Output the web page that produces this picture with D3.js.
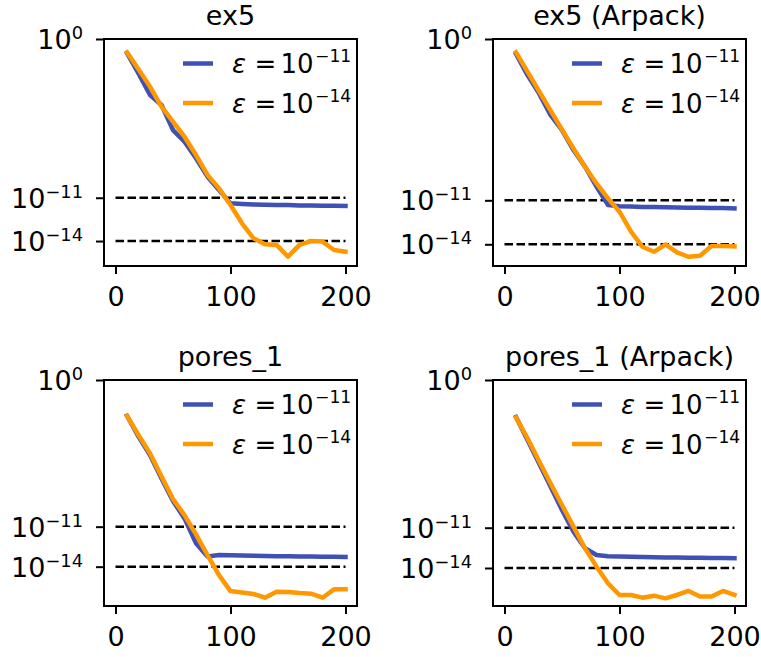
<!DOCTYPE html>
<html>
<head>
<meta charset="utf-8">
<script src="https://cdn.jsdelivr.net/npm/d3@7"></script>
<style>
  body { margin: 0; background: #fff; }
  svg { display: block; }
  text { font-family: "DejaVu Sans", sans-serif; fill: #000; }
</style>
</head>
<body>
<svg id="chart" width="761" height="657"></svg>
<script>
// Restart iteration counts (x axis)
const iterations = [10, 20, 30, 40, 50, 60, 70, 80, 90, 100, 110, 120, 130, 140, 150, 160, 170, 180, 190, 200];

// log10 of the residual for each solver tolerance
const ex5_tol11 = [-0.97, -2.38, -3.88, -4.57, -6.31, -7.11, -8.27, -9.54, -10.46, -11.39, -11.43, -11.46, -11.48, -11.50, -11.50, -11.53, -11.53, -11.55, -11.55, -11.57];
const ex5_tol14 = [-0.92, -2.10, -3.30, -4.69, -5.73, -6.77, -8.04, -9.42, -10.35, -11.50, -12.77, -13.81, -14.23, -14.27, -15.08, -14.27, -14.00, -14.04, -14.62, -14.74];

const ex5Arpack_tol11 = [-1.02, -2.46, -3.71, -5.18, -6.21, -7.57, -8.71, -10.07, -11.32, -11.41, -11.43, -11.45, -11.46, -11.48, -11.49, -11.50, -11.51, -11.52, -11.53, -11.55];
const ex5Arpack_tol14 = [-0.91, -2.23, -3.55, -4.87, -6.18, -7.46, -8.71, -9.85, -10.87, -11.78, -13.14, -14.17, -14.51, -14.01, -14.55, -14.85, -14.78, -14.12, -14.12, -14.14];

const pores_tol11 = [-2.68, -4.25, -5.63, -7.38, -9.08, -10.38, -12.25, -13.23, -13.13, -13.15, -13.17, -13.18, -13.20, -13.21, -13.22, -13.23, -13.24, -13.25, -13.26, -13.27];
const pores_tol14 = [-2.68, -4.13, -5.50, -7.23, -8.93, -10.13, -11.58, -13.13, -14.63, -15.83, -15.93, -16.05, -16.33, -15.88, -15.90, -15.98, -16.03, -16.33, -15.70, -15.70];

const poresArpack_tol11 = [-2.75, -4.47, -6.20, -7.94, -9.68, -11.29, -12.53, -13.03, -13.13, -13.15, -13.17, -13.18, -13.20, -13.21, -13.22, -13.23, -13.24, -13.25, -13.26, -13.27];
const poresArpack_tol14 = [-2.80, -4.34, -6.03, -7.69, -9.31, -10.92, -12.53, -13.90, -15.14, -16.01, -16.01, -16.21, -16.06, -16.26, -16.01, -15.71, -16.13, -16.13, -15.71, -16.01];

// Panel titles, tolerance exponents (legend + dashed reference lines), tick labels
const titles = ["ex5", "ex5 (Arpack)", "pores_1", "pores_1 (Arpack)"];
const tolExponents = [-11, -14];
const yTickExponents = [0, -11, -14];
const xTicks = [0, 100, 200];
const yFloorExponents = [-15.73, -15.48, -16.95, -16.83];

const seriesByPanel = [
  [ex5_tol11, ex5_tol14],
  [ex5Arpack_tol11, ex5Arpack_tol14],
  [pores_tol11, pores_tol14],
  [poresArpack_tol11, poresArpack_tol14]
];
const colors = ["#3f51b5", "#ff9800"];

// Layout
const panelW = 253;
const boxes = [
  { left: 104, top: 39, bottom: 266 },
  { left: 493, top: 39, bottom: 266 },
  { left: 104, top: 380, bottom: 606 },
  { left: 493, top: 380, bottom: 606 }
];
const tickFont = 27;
const titleFont = 27;
const legendFont = 26;

const svg = d3.select("#chart");

// Writes "10" with a superscript exponent into a text element
function powerLabel(textSel, exp, size) {
  textSel.text(null);
  textSel.append("tspan").text("10");
  textSel.append("tspan")
    .attr("font-size", size * 0.66)
    .attr("dy", -10)
    .text(exp < 0 ? "\u2212" + Math.abs(exp) : String(exp));
}

boxes.forEach((b, i) => {
  const x = d3.scaleLinear().domain([-10, 210]).range([b.left, b.left + panelW]);
  const y = d3.scaleLog()
    .domain([Math.pow(10, yFloorExponents[i]), 1])
    .range([b.bottom, b.top]);

  const g = svg.append("g");

  // dashed tolerance reference lines
  tolExponents.forEach(e => {
    g.append("line")
      .attr("x1", x(0)).attr("x2", x(200))
      .attr("y1", y(Math.pow(10, e))).attr("y2", y(Math.pow(10, e)))
      .attr("stroke", "#000")
      .attr("stroke-width", 2.5)
      .attr("stroke-dasharray", "8.5,3.5");
  });

  // convergence curves
  const line = d3.line()
    .x((d, j) => x(iterations[j]))
    .y(d => y(Math.pow(10, d)));
  seriesByPanel[i].forEach((s, k) => {
    g.append("path")
      .datum(s)
      .attr("d", line)
      .attr("fill", "none")
      .attr("stroke", colors[k])
      .attr("stroke-width", 4.5)
      .attr("stroke-linejoin", "round")
      .attr("stroke-linecap", "square");
  });

  // frame
  g.append("rect")
    .attr("x", b.left).attr("y", b.top)
    .attr("width", panelW).attr("height", b.bottom - b.top)
    .attr("fill", "none").attr("stroke", "#000").attr("stroke-width", 2);

  // x axis
  const xAxis = g.append("g")
    .attr("transform", `translate(0,${b.bottom})`)
    .call(d3.axisBottom(x).tickValues(xTicks).tickSize(8).tickSizeOuter(0).tickFormat(d3.format("d")));
  xAxis.select(".domain").remove();
  xAxis.selectAll(".tick line").attr("stroke-width", 2);
  xAxis.selectAll(".tick text")
    .attr("font-size", tickFont)
    .attr("font-family", "DejaVu Sans")
    .attr("y", 40).attr("dy", 0);

  // y axis
  const yAxis = g.append("g")
    .attr("transform", `translate(${b.left},0)`)
    .call(d3.axisLeft(y).tickValues(yTickExponents.map(e => Math.pow(10, e))).tickSize(8).tickSizeOuter(0).tickFormat(() => ""));
  yAxis.select(".domain").remove();
  yAxis.selectAll(".tick line").attr("stroke-width", 2);
  yAxis.selectAll(".tick text").each(function(d) {
    const t = d3.select(this)
      .attr("font-size", tickFont)
      .attr("font-family", "DejaVu Sans")
      .attr("x", -21).attr("dy", 0).attr("y", 9.5)
      .attr("text-anchor", "end");
    powerLabel(t, Math.round(Math.log10(d)), tickFont);
  });

  // title
  g.append("text")
    .attr("x", b.left + panelW / 2)
    .attr("y", b.top - 14)
    .attr("text-anchor", "middle")
    .attr("font-size", titleFont)
    .text(titles[i]);

  // legend: handle line plus "ε = 10^e" label
  const right = b.left + panelW;
  tolExponents.forEach((e, k) => {
    const ly = b.top + 24.5 + k * 39.5;
    g.append("line")
      .attr("x1", right - 174).attr("x2", right - 144)
      .attr("y1", ly).attr("y2", ly)
      .attr("stroke", colors[k]).attr("stroke-width", 4.5);
    const part = (dx, txt, size, rise, italic) => g.append("text")
      .attr("x", right + dx)
      .attr("y", ly + 9.5 - rise)
      .attr("font-size", size)
      .attr("font-style", italic ? "italic" : null)
      .text(txt);
    part(-125, "\u03b5", legendFont, 0, true);
    part(-102.5, "=", legendFont, 0, false);
    part(-76.5, "10", legendFont, 0, false);
    part(-42, "\u2212" + Math.abs(e), legendFont * 0.66, 10.6, false);
  });
});
</script>
</body>
</html>
